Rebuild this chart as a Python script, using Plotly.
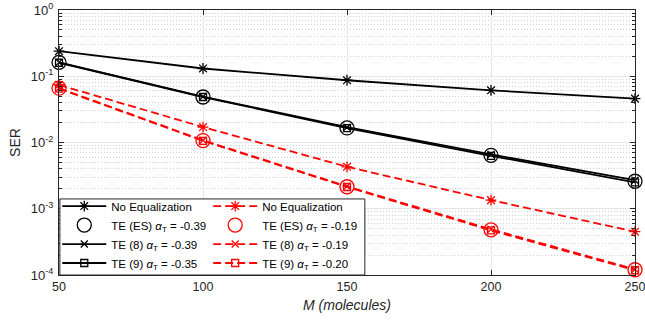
import plotly.graph_objects as go

M = [50, 100, 150, 200, 250]

# black set (first group)
noeq_b = [0.239, 0.131, 0.087, 0.0613, 0.0459]
es_b = [0.162, 0.0486, 0.0166, 0.0064, 0.0026]
te8_b = [0.162, 0.0492, 0.0170, 0.0066, 0.0027]
te9_b = [0.160, 0.0486, 0.0165, 0.0063, 0.0025]

# red set (second group)
noeq_r = [0.074, 0.0171, 0.0043, 0.00135, 0.00045]
es_r = [0.066, 0.0107, 0.00215, 0.00048, 0.00012]
te8_r = [0.066, 0.0108, 0.00218, 0.00049, 0.000122]
te9_r = [0.065, 0.0106, 0.00213, 0.00047, 0.000118]

labels_b = ["No Equalization", "TE (ES) <i>α</i><sub>T</sub> = -0.39",
            "TE (8) <i>α</i><sub>T</sub> = -0.39", "TE (9) <i>α</i><sub>T</sub> = -0.35"]
labels_r = ["No Equalization", "TE (ES) <i>α</i><sub>T</sub> = -0.19",
            "TE (8) <i>α</i><sub>T</sub> = -0.19", "TE (9) <i>α</i><sub>T</sub> = -0.20"]

yticks = [1, 0.1, 0.01, 0.001, 0.0001]
yticktext = ["10<sup>0</sup>", "10<sup>-1</sup>", "10<sup>-2</sup>", "10<sup>-3</sup>", "10<sup>-4</sup>"]
xticks = [50, 100, 150, 200, 250]

BLACK = "#000000"
RED = "#ff0000"

symbols = ["asterisk-open", "circle-open", "x-thin-open", "square-open"]
sizes = [9, 14, 7, 7]
modes = ["lines+markers", "markers", "lines+markers", "lines+markers"]

fig = go.Figure()
for ys_list, col, labs, dash, lg in [
    ([noeq_b, es_b, te8_b, te9_b], BLACK, labels_b, "solid", "legend"),
    ([noeq_r, es_r, te8_r, te9_r], RED, labels_r, "8px,4px", "legend2"),
]:
    for i in range(4):
        fig.add_trace(go.Scatter(
            x=M, y=ys_list[i], mode=modes[i], name=labs[i], cliponaxis=False,
            legend=lg,
            line=dict(color=col, width=1.8, dash=dash),
            marker=dict(symbol=symbols[i], size=sizes[i], color=col,
                        line=dict(color=col, width=1.3)),
        ))

axis_col = "#262626"
grid_col = "#e6e6e6"

minor_vals = [m * 10.0 ** e for e in range(-4, 0) for m in range(2, 10)]

leg_common = dict(
    yanchor="top", y=0.315, xanchor="left",
    orientation="v", itemwidth=44,
    bgcolor="rgba(0,0,0,0)", borderwidth=0,
    font=dict(size=11.5, color="#000000"),
    tracegroupgap=0,
)

fig.update_layout(
    width=645, height=327,
    margin=dict(l=59, r=10, t=10, b=52, autoexpand=False),
    paper_bgcolor="white", plot_bgcolor="white",
    font=dict(family="Liberation Sans, Arial, sans-serif", size=12, color=axis_col),
    showlegend=True,
    legend=dict(x=-0.003, **leg_common),
    legend2=dict(x=0.259, **leg_common),
    shapes=[dict(type="rect", xref="paper", yref="paper", x0=0.0015, x1=0.531,
                 y0=0.0, y1=0.287, layer="above",
                 line=dict(color=axis_col, width=1), fillcolor="white")],
)

fig.update_xaxes(
    range=[50, 250], tickvals=xticks, ticks="inside", ticklen=5, tickcolor=axis_col,
    showline=True, linecolor=axis_col, linewidth=1, mirror="ticks",
    showgrid=True, gridcolor=grid_col, gridwidth=1, zeroline=False,
    tickfont=dict(size=12.5, color=axis_col), ticklabeloverflow="allow",
    title=dict(text="<i>M (molecules)</i>", font=dict(size=14, color=axis_col), standoff=7),
)
fig.update_yaxes(
    type="log", range=[-4, 0], tickvals=yticks, ticktext=yticktext,
    ticks="inside", ticklen=5, tickcolor=axis_col,
    showline=True, linecolor=axis_col, linewidth=1, mirror="ticks",
    showgrid=True, gridcolor=grid_col, gridwidth=1, zeroline=False,
    tickfont=dict(size=13, color=axis_col), ticklabelstandoff=2,
    minor=dict(tickmode="array", tickvals=minor_vals, ticks="inside", ticklen=3,
               tickcolor=axis_col, showgrid=True, gridcolor="#cfcfcf",
               griddash="1px,2px", gridwidth=1),
    title=dict(text="SER", font=dict(size=14, color=axis_col), standoff=6),
)

fig.write_html("out.html", config={"displayModeBar": False},
               post_script="document.body.style.margin='0';")
